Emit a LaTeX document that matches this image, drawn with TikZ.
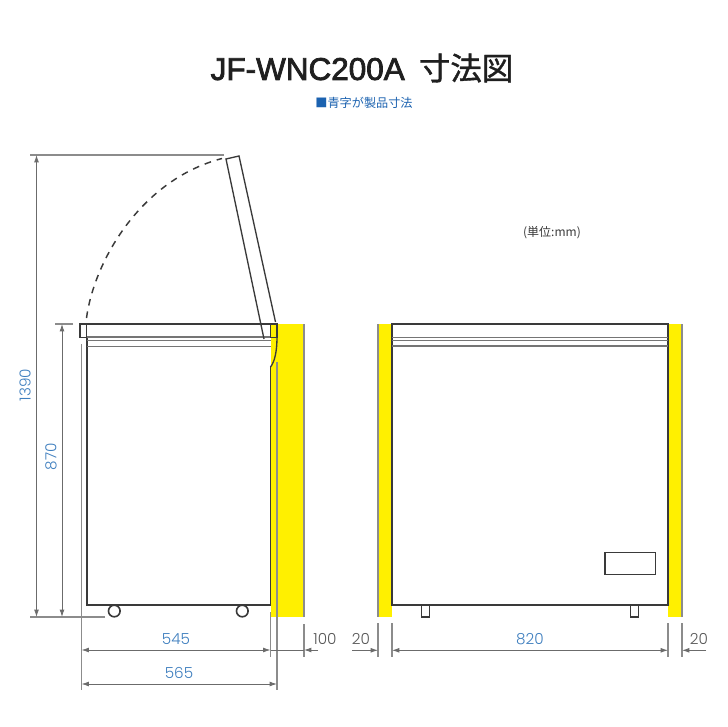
\documentclass[tikz,border=0pt]{standalone}
\usepackage{fontspec}
\setmainfont{Liberation Sans}
\newfontfamily\dimfont[UprightFont=* Light]{Poppins}
\newfontfamily\cjkfont{Noto Sans CJK JP}
\newfontfamily\titlefont[FakeBold=2.4]{Liberation Sans}
\newfontfamily\titlecjk[FakeBold=1.2]{Noto Sans CJK JP}
\usetikzlibrary{arrows.meta}
\definecolor{dimblue}{HTML}{3F7FBF}
\definecolor{subblue}{HTML}{1B62B0}
\definecolor{ink}{HTML}{3A3A3A}
\definecolor{dimgray}{HTML}{8C8C8C}
\definecolor{clear}{HTML}{FFF000}
\tikzset{
  x=0.75pt,y=-0.75pt,
  outline/.style={draw=ink,line width=1.2pt},
  thinoutline/.style={draw=ink,line width=1pt},
  band/.style={draw=ink!70,line width=1pt},
  extline/.style={draw=dimgray,line width=0.85pt},
  dimline/.style={draw=ink!75,line width=0.6pt,{Latex[length=5.5pt,width=3.6pt]}-{Latex[length=5.5pt,width=3.6pt]}},
  oneway/.style={draw=ink!75,line width=0.6pt,-{Latex[length=5.5pt,width=3.6pt]}},
  clearzone/.style={fill=clear,draw=none},
  bluedim/.style={text=dimblue,font=\dimfont\fontsize{11.4pt}{13pt}\selectfont,inner sep=0pt},
  graydim/.style={text=ink!85,font=\dimfont\fontsize{11.4pt}{13pt}\selectfont,inner sep=0pt},
}
\begin{document}
\begin{tikzpicture}
\useasboundingbox (0,0) rectangle (727,727);
\fill[white] (0,0) rectangle (727,727);
% title
\node[inner sep=0pt,text=black!88] (title) at (362,68) {\fontsize{23.6pt}{26pt}\selectfont{\titlefont JF-WNC200A}\hspace{0.45em}{\titlecjk 寸法図}};
\node[inner sep=0pt,text=subblue] (subtitle) at (364,102.5) {\cjkfont\fontsize{9.1pt}{11pt}\selectfont ■青字が製品寸法};
\node[inner sep=0pt,text=ink] (unit) at (552,233) {\cjkfont\fontsize{9pt}{11pt}\selectfont (単位:mm)};
% yellow clearances
\fill[clearzone] (270.5,324) rectangle (304,617);
\fill[clearzone] (378,324) rectangle (392,617);
\fill[clearzone] (668,324) rectangle (682,617);
\draw[extline] (304,324) -- (304,617);
\draw[extline] (378,324) -- (378,617);
\draw[extline] (682,324) -- (682,617);
% side view body
\draw[outline] (86.7,337) -- (86.7,604.7) -- (270.5,604.7) -- (270.5,367);
\draw[band] (86.7,337) -- (270.5,337);
\draw[band] (86.7,340.3) -- (270.5,340.3);
\draw[band] (86.7,346.5) -- (270.5,346.5);
\draw[outline] (80,324) -- (277,324);
\draw[thinoutline] (80,324) rectangle (86.7,337.3);
\draw[thinoutline] (270.5,324) rectangle (277,337.3);
\draw[thinoutline] (277,337) .. controls (277,352) and (274.5,362) .. (270.5,367);
% open lid
\draw[thinoutline] (264,339) -- (226,159) -- (239,156) -- (275.5,322);
\draw[ink,line width=1.1pt,dash pattern=on 5pt off 4.5pt] (86.5,318) .. controls (94,262) and (140,180) .. (222,158.5);
% wheels
\draw[outline,fill=white] (114.3,611) circle (5.8);
\draw[outline,fill=white] (242.3,611) circle (5.8);
% front view
\draw[outline] (392,324) rectangle (667.8,604.7);
\draw[band] (392,337.3) -- (667.8,337.3);
\draw[band] (392,340.5) -- (667.8,340.5);
\draw[band] (392,346) -- (667.8,346);
\draw[thinoutline] (421.7,605) rectangle (429.3,617);
\draw[thinoutline] (630.3,605) rectangle (638.3,617);
\draw[thinoutline] (605,552.7) rectangle (655.7,574.7);
% extension lines, side view
\draw[extline] (224,155) -- (30,155);
\draw[extline] (73,324) -- (55,324);
\draw[extline] (105,617) -- (30,617);
\draw[extline] (81.5,344) -- (81.5,690);
\draw[extline] (277,362) -- (277,690);
\draw[extline] (270.5,612) -- (270.5,657);
\draw[extline] (304,624) -- (304,657);
% extension lines, front view
\foreach \ex in {378,392,668,682} \draw[extline] (\ex,623) -- (\ex,657);
% dimension lines
\coordinate (hiA) at (36.5,155); \coordinate (hiB) at (36.5,617);
\coordinate (loA) at (62,324); \coordinate (loB) at (62,617);
\draw[dimline] (hiA) -- (hiB);
\draw[dimline] (loA) -- (loB);
\draw[dimline] (81.5,650) -- (270.5,650);
\draw[dimline] (81.5,684) -- (277,684);
\draw[oneway] (318,650) -- (304,650);
\draw[draw=ink!75,line width=0.6pt] (270.5,650) -- (304,650);
\draw[oneway] (352,650.3) -- (378,650.3);
\draw[dimline] (392,650.3) -- (668,650.3);
\draw[oneway] (706,650.3) -- (682,650.3);
% labels
\node[bluedim,rotate=90] (d1390) at (25,385) {1390};
\node[bluedim,rotate=90] (d870) at (51,457) {870};
\node[bluedim] (d545) at (176,639) {545};
\node[bluedim] (d565) at (179,673) {565};
\node[graydim] (d100) at (325,639) {100};
\node[graydim] (d20a) at (361,639) {20};
\node[bluedim] (d820) at (530,639) {820};
\node[graydim] (d20b) at (699,639) {20};
\end{tikzpicture}
\end{document}
